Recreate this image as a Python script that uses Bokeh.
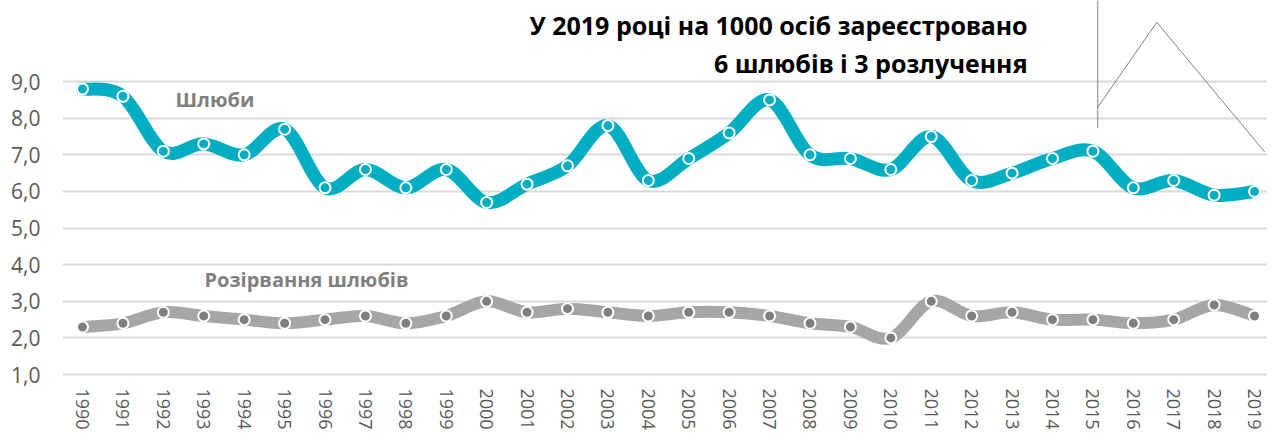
import numpy as np
from bokeh.plotting import figure
from bokeh.models import FixedTicker, Range1d, ColumnDataSource
from bokeh.core.properties import value
from bokeh.embed import file_html
from bokeh.resources import INLINE

years = list(range(1990, 2020))
marriages = [8.8, 8.6, 7.1, 7.3, 7.0, 7.7, 6.1, 6.6, 6.1, 6.6,
             5.7, 6.2, 6.7, 7.8, 6.3, 6.9, 7.6, 8.5, 7.0, 6.9,
             6.6, 7.5, 6.3, 6.5, 6.9, 7.1, 6.1, 6.3, 5.9, 6.0]
divorces = [2.3, 2.4, 2.7, 2.6, 2.5, 2.4, 2.5, 2.6, 2.4, 2.6,
            3.0, 2.7, 2.8, 2.7, 2.6, 2.7, 2.7, 2.6, 2.4, 2.3,
            2.0, 3.0, 2.6, 2.7, 2.5, 2.5, 2.4, 2.5, 2.9, 2.6]
y_ticks = [1, 2, 3, 4, 5, 6, 7, 8, 9]
y_tick_labels = {t: f"{t},0" for t in y_ticks}
title_lines = ["У 2019 році на 1000 осіб зареєстровано", "6 шлюбів і 3 розлучення"]
series_labels = ["Шлюби", "Розірвання шлюбів"]
# decorative shape lines (top right)
deco_vert_x = [2015.12, 2015.12]
deco_vert_y = [7.73, 11.5]
deco_poly_x = [2015.12, 2016.58, 2019.25]
deco_poly_y = [8.30, 10.62, 7.08]

TEAL = "#00AEC3"
GRAY_LINE = "#A6A6A6"
GRAY_MARK = "#7F7F7F"

p = figure(width=1267, height=432, output_backend="svg", toolbar_location=None,
           x_range=Range1d(1989.505, 2019.32), y_range=Range1d(0.892, 11.216),
           min_border_left=62, min_border_right=0, min_border_top=0,
           min_border_bottom=50)
p.outline_line_color = None
p.background_fill_color = "white"
p.border_fill_color = "white"

# grid
p.xgrid.grid_line_color = None
p.ygrid.ticker = FixedTicker(ticks=y_ticks)
p.ygrid.grid_line_color = "#D9D9D9"
p.ygrid.grid_line_width = 2

# axes
p.yaxis.ticker = FixedTicker(ticks=y_ticks)
p.yaxis.major_label_overrides = y_tick_labels
p.yaxis.axis_line_color = None
p.yaxis.major_tick_line_color = None
p.yaxis.minor_tick_line_color = None
p.yaxis.major_label_text_font = "Open Sans"
p.yaxis.major_label_text_font_size = "21px"
p.yaxis.major_label_text_color = "#595959"
p.yaxis.major_label_standoff = 16

p.xaxis.ticker = FixedTicker(ticks=years)
p.xaxis.axis_line_color = None
p.xaxis.major_tick_line_color = None
p.xaxis.minor_tick_line_color = None
p.xaxis.major_label_orientation = "vertical"
p.xaxis.major_label_text_font = "Open Sans"
p.xaxis.major_label_text_font_size = "18px"
p.xaxis.major_label_text_color = "#595959"
p.xaxis.major_label_standoff = 4


def smooth_segments(xs, ys, t=1.0 / 6.0):
    xs = np.asarray(xs, dtype=float)
    ys = np.asarray(ys, dtype=float)
    n = len(xs)
    xp = np.concatenate([[xs[0]], xs, [xs[-1]]])
    yp = np.concatenate([[ys[0]], ys, [ys[-1]]])
    d = dict(x0=[], y0=[], x1=[], y1=[], cx0=[], cy0=[], cx1=[], cy1=[])
    for i in range(n - 1):
        j = i + 1
        d["x0"].append(xp[j]); d["y0"].append(yp[j])
        d["x1"].append(xp[j + 1]); d["y1"].append(yp[j + 1])
        d["cx0"].append(xp[j] + (xp[j + 1] - xp[j - 1]) * t)
        d["cy0"].append(yp[j] + (yp[j + 1] - yp[j - 1]) * t)
        d["cx1"].append(xp[j + 1] - (xp[j + 2] - xp[j]) * t)
        d["cy1"].append(yp[j + 1] - (yp[j + 2] - yp[j]) * t)
    return ColumnDataSource(d)


# divorces
p.bezier(x0="x0", y0="y0", x1="x1", y1="y1", cx0="cx0", cy0="cy0", cx1="cx1", cy1="cy1",
         source=smooth_segments(years, divorces), line_color=GRAY_LINE, line_width=12,
         line_cap="round")
p.scatter(years, divorces, size=11, fill_color=GRAY_MARK, line_color="white", line_width=2)

# marriages
p.bezier(x0="x0", y0="y0", x1="x1", y1="y1", cx0="cx0", cy0="cy0", cx1="cx1", cy1="cy1",
         source=smooth_segments(years, marriages), line_color=TEAL, line_width=13,
         line_cap="round")
p.scatter(years, marriages, size=11, fill_color=TEAL, line_color="white", line_width=2)

# series labels
p.text(x=[1992.30], y=[8.51], text=[series_labels[0]], text_font=value("Open Sans"),
       text_font_style="bold", text_font_size="20px", text_color=GRAY_MARK,
       text_baseline="middle", text_align="left")
p.text(x=[1993.02], y=[3.59], text=[series_labels[1]], text_font=value("Open Sans"),
       text_font_style="bold", text_font_size="20px", text_color=GRAY_MARK,
       text_baseline="middle", text_align="left")

# title
p.text(x=[2013.385, 2013.385], y=[10.54, 9.51], text=title_lines, text_font=value("Noto Sans"),
       text_font_style="bold", text_font_size="25px", text_color="black",
       text_baseline="middle", text_align="right")

# decoration
p.line(deco_vert_x, deco_vert_y, line_color="#808080", line_width=1)
p.line(deco_poly_x, deco_poly_y, line_color="#808080", line_width=1)

open("out.html", "w").write(file_html(p, INLINE))
